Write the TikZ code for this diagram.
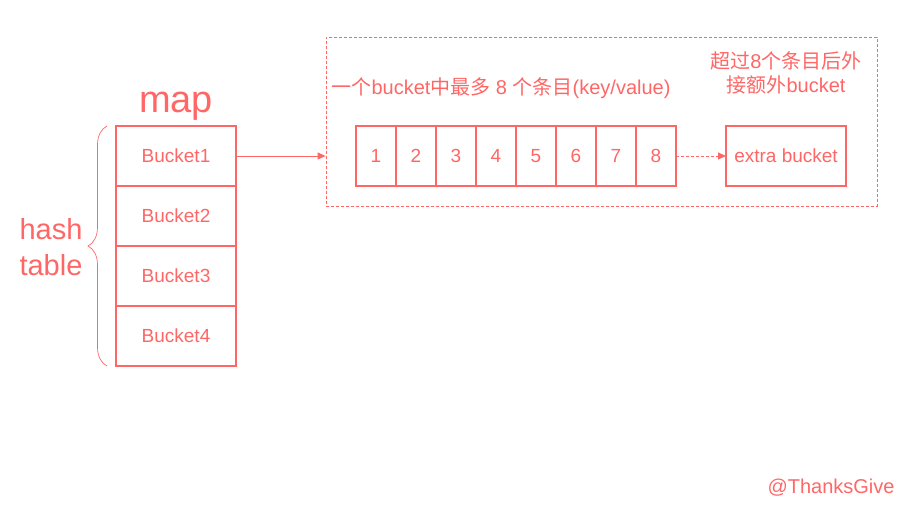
\documentclass[tikz,border=0pt]{standalone}
\usepackage{fontspec}
\setmainfont{Liberation Sans}
\newfontfamily\cjk{Noto Sans CJK SC}
\usetikzlibrary{positioning,decorations.pathreplacing,arrows.meta}
\definecolor{salmon}{RGB}{255,102,102}

\begin{document}
\begin{tikzpicture}
    [x=1pt,y=-1pt,
     every node/.style={text=salmon,font=\fontsize{19}{22}\selectfont},
     box/.style={draw=salmon,line width=2pt,minimum width=120pt,minimum height=60pt,outer sep=0pt},
     cell/.style={box,minimum width=40pt},
     link/.style={draw=salmon,line width=0.9pt,-{Triangle[length=8pt,width=7pt]}}]
  \useasboundingbox (0,0) rectangle (914,512);
  % hash table
  \node[box] (b1) at (176,156) {Bucket1};
  \foreach \i [count=\j from 2] in {1,2,3}
    \node[box,below=0pt of b\i] (b\j) {Bucket\j};
  \node[font=\fontsize{38}{40}\selectfont] (map) at (176,106) {map};
  \draw[salmon,line width=0.7pt,decorate,decoration={brace,amplitude=19pt}]
    (107,366) -- (107,126);
  \node[font=\fontsize{29}{36}\selectfont,align=center] (hash) at (51,247) {hash\\table};
  % one bucket
  \node[draw=salmon,line width=0.8pt,dash pattern=on 3pt off 2pt,
        minimum width=551pt,minimum height=169pt] (grp) at (601.5,121.5) {};
  \node[cell] (c1) at (376,156) {1};
  \foreach \i [count=\j from 2] in {1,...,7}
    \node[cell,right=0pt of c\i] (c\j) {\j};
  \node[box] (extra) at (786,156) {extra bucket};
  \node[font=\fontsize{20}{24}\selectfont] (note) at (501,88)
    {{\cjk 一个}bucket{\cjk 中最多} 8 {\cjk 个条目}(key/value)};
  \node[font=\fontsize{20}{24}\selectfont,align=center] (over) at (786,73)
    {{\cjk 超过}8{\cjk 个条目后外}\\{\cjk 接额外}bucket};
  \draw[link] (b1.east) -- (grp.west |- b1.east);
  \draw[link,dash pattern=on 3pt off 2pt] (c8.east) -- (extra.west);
  \node[font=\fontsize{20}{24}\selectfont] (sign) at (831,488) {@ThanksGive};
\end{tikzpicture}
\end{document}
